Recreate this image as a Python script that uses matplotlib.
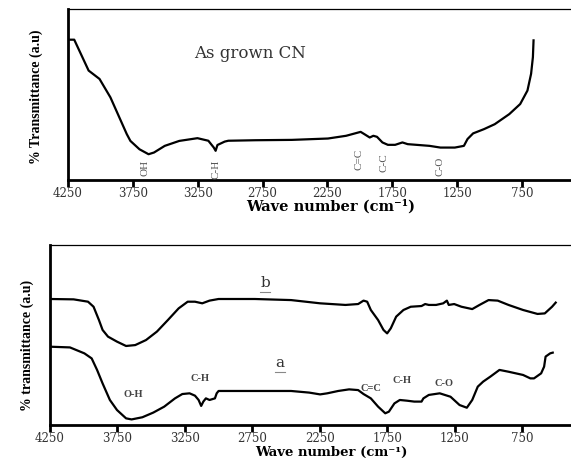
import matplotlib
matplotlib.use("Agg")
import matplotlib.pyplot as plt

# FTIR spectra: as grown CN (top) and samples a / b (bottom)

top_wn = [4236, 4202, 4091, 4007, 3923, 3797, 3769, 3699, 3629, 3587, 3504, 3392,
          3252, 3168, 3126, 3112, 3098, 3070, 3042, 3014, 2805, 2525, 2246, 2106,
          1994, 1966, 1924, 1896, 1868, 1826, 1784, 1728, 1672, 1631, 1463, 1379,
          1268, 1198, 1170, 1127, 1043, 960, 848, 764, 708, 680, 666, 661]
top_tr = [82.2, 82.2, 64.1, 59.2, 48.4, 26.9, 22.9, 18.0, 15.1, 16.1, 20.0, 22.9,
          24.5, 23.0, 19.0, 17.1, 20.5, 21.5, 22.5, 23.0, 23.3, 23.5, 24.3, 25.9,
          28.2, 26.9, 24.9, 25.9, 25.3, 22.0, 20.6, 20.6, 22.0, 21.0, 20.0, 19.0,
          19.0, 20.0, 24.0, 27.3, 29.8, 32.7, 38.6, 44.5, 52.4, 62.2, 72.0, 81.8]

b_wn = [4250, 4075, 3968, 3927, 3887, 3860, 3820, 3753, 3686, 3618, 3538, 3457,
        3376, 3296, 3229, 3175, 3121, 3067, 3000, 2731, 2462, 2247, 2059, 1965,
        1925, 1898, 1871, 1817, 1777, 1750, 1723, 1683, 1629, 1575, 1495, 1468,
        1441, 1387, 1334, 1307, 1293, 1253, 1199, 1119, 1065, 998, 930, 850,
        742, 635, 581, 527, 500]
b_tr = [70.0, 69.8, 68.5, 65.7, 58.3, 52.8, 49.1, 46.3, 43.9, 44.4, 47.2, 51.9,
        58.3, 64.8, 68.5, 68.5, 67.6, 69.1, 70.0, 70.0, 69.4, 67.6, 66.7, 67.2,
        69.1, 68.5, 63.9, 58.3, 52.8, 50.9, 53.7, 60.2, 63.9, 65.7, 66.1, 67.2,
        66.7, 66.7, 67.6, 69.1, 66.7, 67.2, 65.7, 64.4, 66.7, 69.4, 69.1, 66.7,
        63.9, 61.7, 62.0, 65.7, 68.0]

a_wn = [4250, 4102, 3995, 3941, 3901, 3860, 3806, 3753, 3686, 3645, 3565, 3484,
        3403, 3323, 3269, 3215, 3175, 3148, 3129, 3113, 3094, 3067, 3027, 3014,
        3000, 2866, 2462, 2328, 2247, 2194, 2113, 2032, 1965, 1925, 1871, 1817,
        1764, 1737, 1696, 1656, 1602, 1549, 1495, 1481, 1441, 1360, 1280, 1213,
        1159, 1119, 1078, 1038, 984, 917, 850, 742, 688, 661, 608, 586, 575,
        541, 522]
a_tr = [43.5, 43.1, 39.8, 37.0, 30.6, 23.1, 13.9, 8.3, 3.7, 3.1, 4.3, 6.9,
        10.2, 14.8, 17.2, 17.6, 16.3, 13.9, 10.6, 13.0, 14.8, 13.9, 14.8, 17.6,
        18.9, 18.9, 18.9, 18.0, 17.0, 17.6, 18.9, 19.8, 19.4, 17.2, 14.8, 10.2,
        6.5, 7.4, 12.0, 13.9, 13.5, 13.0, 13.0, 14.8, 16.7, 17.6, 15.7, 11.1,
        9.6, 13.9, 21.3, 24.1, 26.9, 30.6, 29.6, 27.8, 25.9, 25.9, 28.7, 32.4,
        38.0, 39.8, 40.2]

top_peaks = ["OH", "C-H", "C=C", "C-C", "C-O"]
top_peak_wn = [3657, 3112, 2008, 1812, 1379]
top_peak_y = [7.3, 6.5, 12.2, 10.2, 8.2]

bot_peaks = ["O-H", "C-H", "C=C", "C-H", "C-O"]
bot_peak_wn = [3632, 3134, 1871, 1643, 1328]
bot_peak_y = [16.7, 25.9, 20.4, 24.6, 22.8]

curve_names = ["b", "a"]
curve_name_wn = [2656, 2543]
curve_name_y = [78.7, 34.3]

ticks = [4250, 3750, 3250, 2750, 2250, 1750, 1250, 750]

W, H = 571, 459
fig = plt.figure(figsize=(W / 100, H / 100), dpi=100)


def style_axes(ax, right):
    ax.set_xlim(4250, right)
    ax.set_ylim(0, 100)
    ax.set_xticks(ticks)
    ax.set_xticklabels([str(t) for t in ticks], family='DejaVu Serif',
                       fontsize=8.5, color='#333333')
    ax.set_yticks([])
    ax.tick_params(axis='x', direction='out', length=5, width=2, pad=0)
    ax.spines['right'].set_visible(False)
    ax.spines['left'].set_linewidth(2)
    ax.spines['bottom'].set_linewidth(2)
    ax.spines['top'].set_linewidth(0.9)


# top panel
ax1 = fig.add_axes([68 / W, 1 - 180 / H, 502 / W, 170.7 / H])
ax1.plot(top_wn, top_tr, color='black', lw=1.6)
style_axes(ax1, 380)
ax1.text(2847, 73.9, "As grown CN", family='DejaVu Serif', fontsize=12,
         color='#333333', ha='center', va='center')
for lab, x, y in zip(top_peaks, top_peak_wn, top_peak_y):
    ax1.text(x, y, lab, rotation=90, family='Liberation Serif', fontsize=8,
             color='#555555', ha='center', va='center')

# bottom panel
ax2 = fig.add_axes([50 / W, 1 - 425 / H, 520 / W, 180 / H])
ax2.plot(b_wn, b_tr, color='black', lw=1.6)
ax2.plot(a_wn, a_tr, color='black', lw=1.6)
style_axes(ax2, 394)
for lab, x, y in zip(curve_names, curve_name_wn, curve_name_y):
    ax2.text(x, y, lab, family='DejaVu Serif', fontsize=11, color='#333333',
             ha='center', va='center')
    # small underline below the curve letter
    ax2.plot([x + 35, x - 35], [y - 5, y - 5], color='#888888', lw=0.8)
for lab, x, y in zip(bot_peaks, bot_peak_wn, bot_peak_y):
    ax2.text(x, y, lab, family='Liberation Serif', fontsize=7.5, weight='bold',
             color='#444444', ha='center', va='center')

# axis titles
fig.text(36 / W, 1 - 97 / H, '% Transmittance (a.u)',
         rotation=90, family='Liberation Serif', fontsize=10, weight='bold',
         ha='center', va='center')
fig.text(27 / W, 1 - 345 / H, '% transmittance (a.u)',
         rotation=90, family='Liberation Serif', fontsize=10, weight='bold',
         ha='center', va='center')
fig.text(331 / W, 1 - 199.5 / H, 'Wave number (cm⁻¹)',
         family='DejaVu Serif', fontsize=10.5, weight='bold',
         ha='center', va='top')
fig.text(331 / W, 0.5 / H, 'Wave number (cm⁻¹)',
         family='DejaVu Serif', fontsize=9.5, weight='bold',
         ha='center', va='bottom')

fig.savefig('out.png', dpi=100)
